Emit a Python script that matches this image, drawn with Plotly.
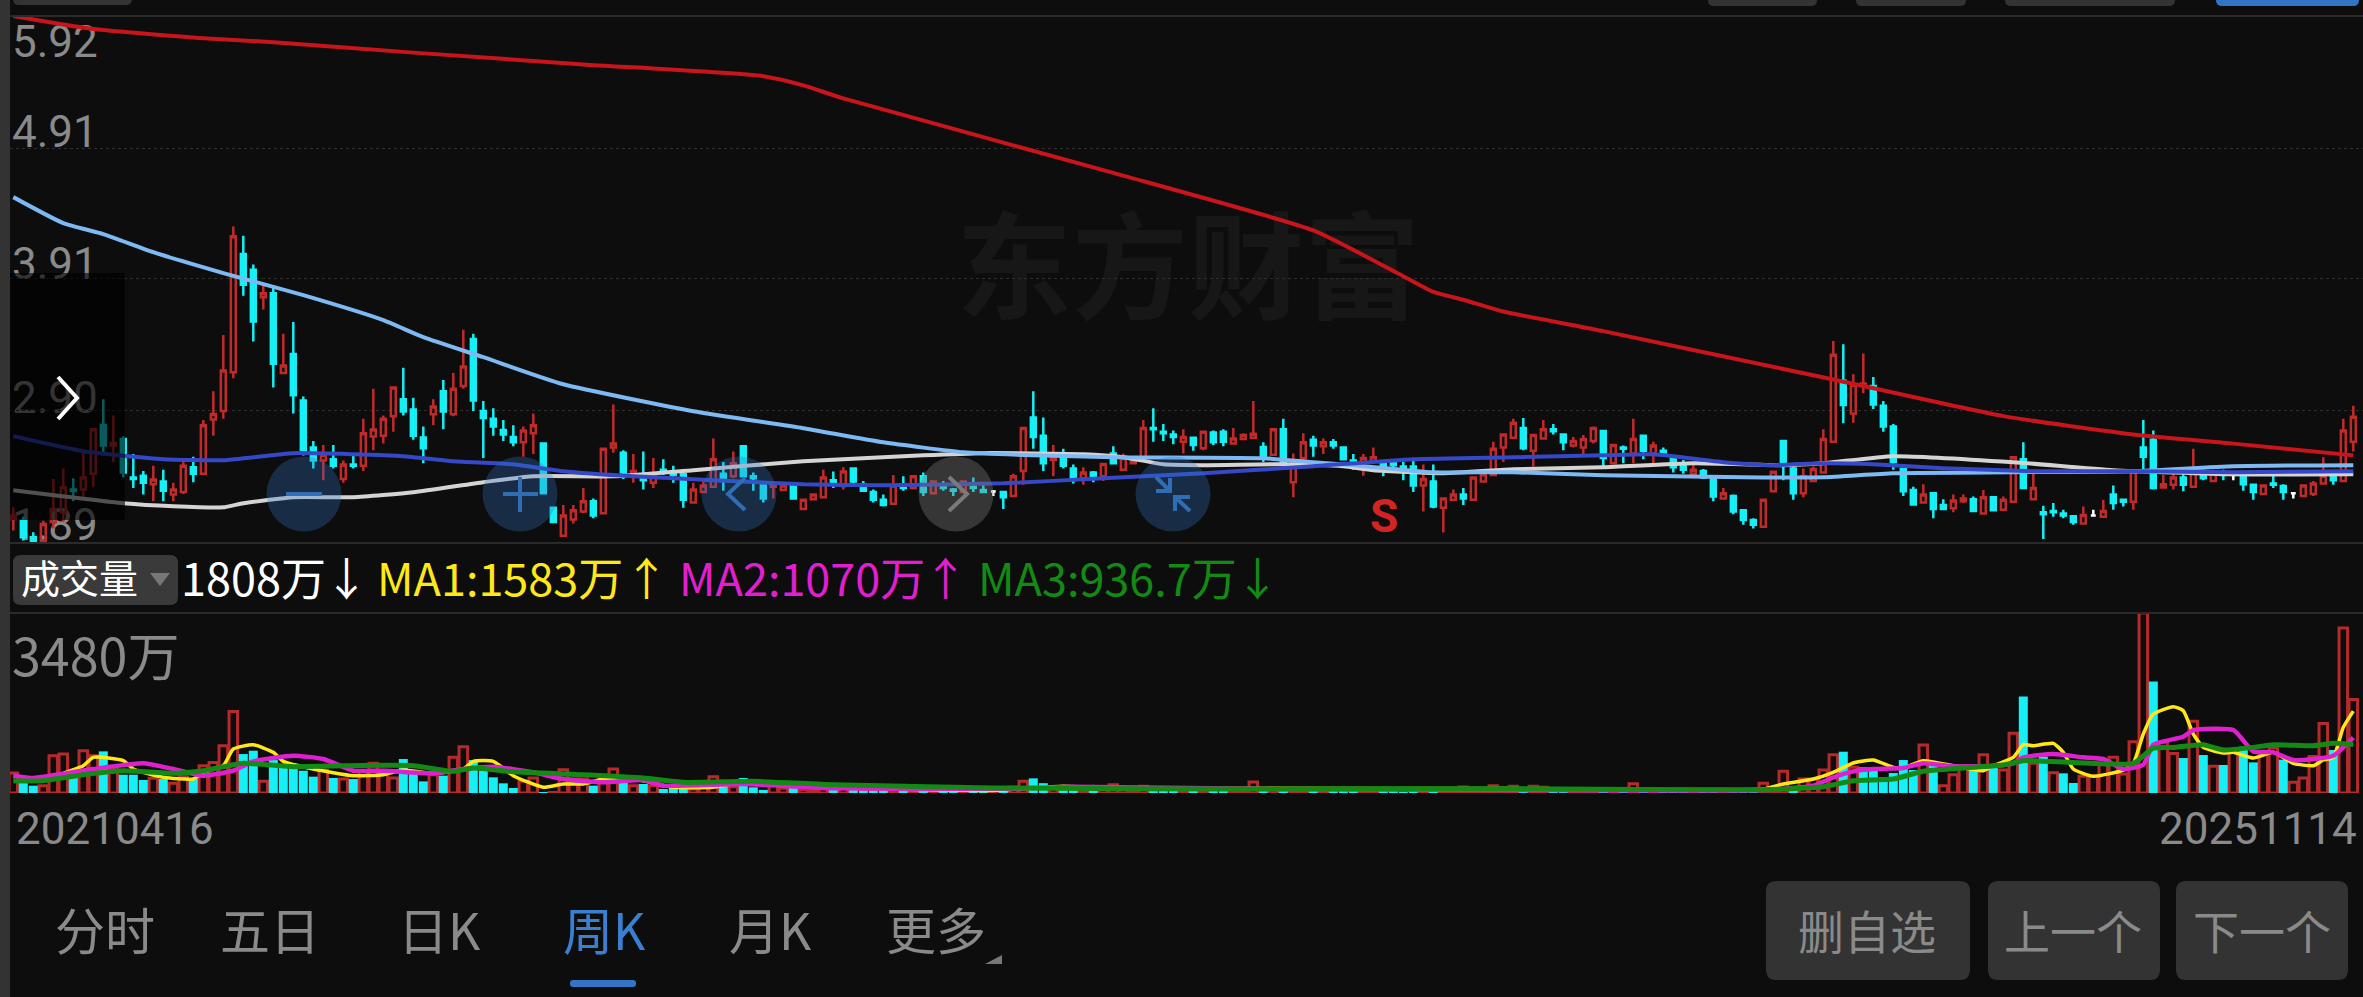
import plotly.graph_objects as go

# weekly candles, one entry per week (20210416 .. 20251114)
body_top = [
    2.10,2.06,1.934,2.036,2.15,2.316,2.30,2.39,2.76,2.793,
    2.655,2.686,2.39,2.405,2.375,2.36,2.30,2.48,2.47,2.79,
    2.877,3.21,4.236,4.10,3.98,3.80,3.80,3.247,3.336,2.98,
    2.62,2.565,2.53,2.49,2.49,2.73,2.757,2.84,3.08,2.99,
    2.91,2.696,2.933,3.05,3.07,3.24,3.45,2.90,2.84,2.755,
    2.70,2.75,2.79,2.65,2.16,2.10,2.14,2.21,2.21,2.61,
    2.65,2.58,2.44,2.405,2.42,2.45,2.42,2.415,2.30,2.33,
    2.53,2.42,2.50,2.63,2.40,2.33,2.34,2.33,2.33,2.22,
    2.26,2.39,2.37,2.436,2.46,2.34,2.28,2.22,2.33,2.34,
    2.40,2.40,2.36,2.335,2.30,2.36,2.32,2.295,2.283,2.28,
    2.40,2.77,2.85,2.71,2.55,2.55,2.46,2.43,2.43,2.495,
    2.575,2.54,2.52,2.77,2.77,2.74,2.72,2.70,2.695,2.74,
    2.735,2.74,2.69,2.715,2.725,2.625,2.76,2.76,2.50,2.66,
    2.68,2.66,2.66,2.62,2.52,2.54,2.545,2.51,2.50,2.475,
    2.475,2.38,2.36,2.23,2.26,2.26,2.39,2.415,2.61,2.72,
    2.81,2.77,2.715,2.76,2.76,2.72,2.67,2.685,2.77,2.747,
    2.64,2.62,2.685,2.71,2.635,2.595,2.54,2.485,2.45,2.44,
    2.39,2.27,2.25,2.14,2.065,2.22,2.435,2.67,2.46,2.40,
    2.455,2.685,3.33,3.13,3.10,3.11,3.09,2.94,2.78,2.455,
    2.295,2.26,2.27,2.18,2.215,2.23,2.225,2.24,2.24,2.22,
    2.545,2.53,2.31,2.125,2.135,2.115,2.095,2.105,2.10,2.135,
    2.26,2.22,2.435,2.62,2.68,2.34,2.39,2.39,2.43,2.43,
    2.425,2.42,2.41,2.395,2.335,2.33,2.345,2.325,2.27,2.33,
    2.345,2.405,2.41,2.75,2.855,
]
body_bot = [
    2.074,1.934,1.90,1.908,2.05,2.125,2.29,2.30,2.42,2.635,
    2.635,2.43,2.38,2.35,2.34,2.29,2.26,2.28,2.42,2.42,
    2.834,2.90,3.196,3.864,3.584,3.77,3.26,3.19,3.02,2.60,
    2.52,2.52,2.48,2.38,2.48,2.48,2.705,2.71,2.86,2.895,
    2.71,2.614,2.875,2.895,2.875,3.09,2.98,2.845,2.78,2.72,
    2.66,2.66,2.73,2.27,2.05,1.946,2.07,2.13,2.10,2.117,
    2.62,2.43,2.41,2.37,2.35,2.436,2.41,2.22,2.20,2.28,
    2.32,2.365,2.40,2.40,2.385,2.23,2.32,2.295,2.23,2.15,
    2.225,2.24,2.345,2.326,2.36,2.29,2.22,2.18,2.19,2.31,
    2.31,2.28,2.27,2.31,2.29,2.28,2.31,2.28,2.283,2.24,
    2.25,2.44,2.70,2.50,2.525,2.48,2.39,2.385,2.40,2.40,
    2.50,2.45,2.50,2.54,2.76,2.73,2.70,2.665,2.64,2.615,
    2.66,2.665,2.65,2.685,2.695,2.55,2.565,2.50,2.355,2.54,
    2.635,2.63,2.635,2.53,2.475,2.51,2.51,2.46,2.485,2.46,
    2.33,2.33,2.17,2.16,2.22,2.23,2.22,2.36,2.41,2.62,
    2.695,2.615,2.595,2.69,2.745,2.66,2.635,2.62,2.67,2.54,
    2.50,2.61,2.575,2.595,2.575,2.575,2.47,2.45,2.42,2.39,
    2.245,2.23,2.13,2.065,2.03,2.015,2.285,2.51,2.27,2.27,
    2.365,2.43,2.665,2.945,2.88,3.09,2.95,2.78,2.51,2.285,
    2.185,2.20,2.15,2.15,2.155,2.21,2.135,2.115,2.14,2.145,
    2.205,2.31,2.225,2.11,2.125,2.10,2.05,2.04,2.10,2.09,
    2.195,2.205,2.205,2.55,2.31,2.315,2.335,2.335,2.32,2.385,
    2.365,2.41,2.41,2.34,2.28,2.265,2.335,2.28,2.27,2.25,
    2.265,2.345,2.37,2.365,2.665,
]
wick_high = [
    2.163,2.09,1.972,2.06,2.38,2.46,2.385,2.597,2.76,2.99,
    2.865,2.706,2.57,2.44,2.48,2.45,2.35,2.53,2.55,2.83,
    3.05,3.48,4.31,4.24,4.02,3.864,3.86,3.49,3.58,3.01,
    2.67,2.64,2.64,2.52,2.56,2.84,3.07,2.865,3.08,3.23,
    3.0,2.78,2.99,3.137,3.19,3.52,3.49,2.976,2.92,2.83,
    2.79,2.78,2.88,2.65,2.16,2.18,2.18,2.31,2.23,2.61,
    2.95,2.60,2.57,2.59,2.54,2.53,2.48,2.42,2.35,2.37,
    2.69,2.51,2.59,2.63,2.43,2.335,2.355,2.34,2.335,2.22,
    2.27,2.45,2.436,2.47,2.46,2.365,2.30,2.26,2.41,2.40,
    2.41,2.43,2.37,2.365,2.31,2.37,2.39,2.34,2.295,2.28,
    2.42,2.775,3.05,2.85,2.64,2.61,2.49,2.47,2.44,2.495,
    2.63,2.575,2.54,2.83,2.92,2.80,2.75,2.76,2.705,2.75,
    2.75,2.76,2.77,2.73,2.975,2.66,2.767,2.84,2.575,2.73,
    2.71,2.69,2.685,2.63,2.57,2.57,2.62,2.52,2.52,2.51,
    2.525,2.49,2.49,2.24,2.30,2.31,2.40,2.45,2.665,2.72,
    2.84,2.845,2.72,2.83,2.80,2.73,2.70,2.715,2.78,2.755,
    2.64,2.635,2.84,2.715,2.665,2.62,2.55,2.525,2.51,2.455,
    2.395,2.31,2.26,2.145,2.08,2.22,2.44,2.67,2.475,2.46,
    2.475,2.76,3.435,3.41,3.18,3.34,3.16,2.975,2.80,2.46,
    2.32,2.34,2.28,2.225,2.26,2.26,2.245,2.295,2.245,2.245,
    2.55,2.66,2.435,2.175,2.195,2.145,2.105,2.17,2.145,2.22,
    2.33,2.23,2.44,2.83,2.75,2.41,2.43,2.44,2.61,2.45,
    2.45,2.45,2.41,2.435,2.34,2.34,2.435,2.34,2.27,2.335,
    2.365,2.545,2.43,2.84,2.94,
]
wick_low = [
    1.985,1.91,1.89,1.90,2.0,2.05,2.21,2.24,2.316,2.57,
    2.51,2.39,2.31,2.26,2.21,2.21,2.21,2.265,2.355,2.42,
    2.71,2.84,3.15,3.78,3.43,3.675,3.08,3.18,2.88,2.56,
    2.46,2.37,2.46,2.35,2.46,2.44,2.60,2.65,2.74,2.865,
    2.68,2.50,2.79,2.76,2.86,3.07,2.90,2.54,2.71,2.67,
    2.63,2.55,2.57,2.27,2.05,1.946,2.04,2.12,2.08,2.117,
    2.58,2.38,2.35,2.30,2.31,2.41,2.35,2.16,2.19,2.27,
    2.31,2.29,2.385,2.40,2.29,2.20,2.23,2.29,2.22,2.145,
    2.22,2.23,2.31,2.30,2.34,2.28,2.20,2.17,2.185,2.29,
    2.30,2.25,2.26,2.29,2.25,2.27,2.28,2.27,2.25,2.15,
    2.25,2.335,2.61,2.44,2.40,2.46,2.345,2.335,2.355,2.365,
    2.49,2.44,2.495,2.51,2.665,2.67,2.645,2.575,2.595,2.60,
    2.64,2.63,2.645,2.68,2.69,2.51,2.56,2.49,2.24,2.50,
    2.55,2.57,2.61,2.525,2.45,2.405,2.51,2.40,2.46,2.37,
    2.28,2.13,2.155,1.97,2.21,2.18,2.22,2.35,2.405,2.51,
    2.685,2.60,2.475,2.68,2.72,2.60,2.62,2.565,2.65,2.46,
    2.495,2.50,2.50,2.53,2.50,2.55,2.43,2.42,2.42,2.38,
    2.21,2.22,2.11,2.03,2.00,2.01,2.28,2.37,2.22,2.24,
    2.355,2.42,2.66,2.805,2.81,3.035,2.915,2.74,2.45,2.25,
    2.18,2.195,2.08,2.14,2.125,2.195,2.13,2.11,2.135,2.14,
    2.20,2.31,2.22,1.92,2.09,2.08,2.03,2.035,2.09,2.085,
    2.145,2.17,2.145,2.435,2.30,2.31,2.30,2.285,2.315,2.37,
    2.355,2.37,2.37,2.29,2.22,2.26,2.31,2.22,2.23,2.25,
    2.25,2.34,2.335,2.36,2.59,
]
candle_dir = ("rccrrrcrrc" "rcccrcrrcr" "rrrccrcrcc" "crcrcrrrrc" "ccrcrrcccc"
              "crrccrrrcr" "rcrcrcccrr" "rcrcccrrcr" "rrcrccccrc" "rcrccrccwc"
              "rrccrccrcr" "crrrcccrcr" "ccrrrcrcrr" "crccc" "rrccc" "crcrrcrrrr"
              "rcrrccrrrc" "rcrcrcccrc" "crcccrrccr" "rrrcrrcccc" "crccrrcrcr"
              "rcrccccrwr" "ccrccrrcrc" "rcwccrccwr" "rrcrr")

# volume, in 万
volume = [
    386,193,142,142,721,753,290,818,721,805,
    460,354,354,251,283,270,187,316,270,528,
    592,914,1578,753,818,225,637,509,509,431,
    316,444,290,270,270,431,573,400,290,657,
    367,225,354,335,689,895,637,431,303,187,
    97,225,290,15,10,451,270,270,142,250,
    464,206,142,174,142,77,97,97,77,110,
    316,122,122,290,110,60,140,90,100,70,
    60,80,90,100,70,50,40,30,60,30,
    50,60,40,25,20,30,30,20,15,30,
    110,225,283,190,90,70,60,40,40,70,
    160,100,60,130,80,50,40,40,40,60,
    50,40,40,30,212,80,90,100,60,50,
    50,40,30,40,30,30,20,40,20,15,
    40,40,60,70,30,116,60,60,142,100,
    130,60,129,110,50,60,60,40,60,60,
    50,30,180,80,60,50,40,30,40,30,
    30,30,40,25,25,187,58,419,77,270,
    270,444,740,798,496,496,431,303,386,637,
    444,927,528,142,354,528,464,740,496,444,
    1153,1868,573,702,393,380,193,322,335,560,
    689,367,992,3480,2157,979,766,676,1385,734,
    515,541,818,895,592,786,869,644,206,290,
    708,1346,831,3188,1808,
]
volume_dir = ("rccrrrcrrc" "rcccrcrrcr" "rrrccrcccc" "crcrcrrrrc" "ccrcrrcccc"
              "crrcrrrrcr" "rcrcrcccrr" "rcrcccrrcr" "rrcrccccrc" "rcrccrccrc"
              "rrccrccrcr" "rrrrcccrcr" "ccrrrcrcrr" "crcccrrccc" "crcrrrrrrr"
              "rcrrccrrrc" "rcrcrcccrc" "crcccrrrcr" "rrrcrccccc" "crcrrrcrcr"
              "rcrcrccrrr" "rrrrcrrcrc" "rcrccrrcrr" "rrcrr")

# price moving averages (week index, price)
ma_red_x = [0,8,19,26,40,57,75,79,83,110,130,139,142,145,149,159,182,199,212,222,234]
ma_red_y = [5.92,5.82,5.75,5.72,5.64,5.55,5.46,5.39,5.29,4.72,4.28,3.93,3.81,3.75,3.66,3.51,3.14,2.86,2.72,2.65,2.56]
ma_sky_x = [0,5,9,14,21,29,37,41,47,55,68,79,87,95,102,110,125,130,134,142,150,159,173,181,188,200,212,222,234]
ma_sky_y = [4.535,4.336,4.252,4.114,3.954,3.785,3.594,3.464,3.311,3.104,2.898,2.768,2.66,2.584,2.561,2.546,2.538,2.508,2.485,2.431,2.431,2.408,2.393,2.393,2.424,2.431,2.439,2.477,2.485]
ma_blue_x = [0,7,15,21,28,34,39,44,50,55,62,70,79,87,99,109,119,130,140,150,159,164,171,176,181,186,193,202,212,222,234]
ma_blue_y = [2.707,2.592,2.531,2.523,2.577,2.569,2.554,2.515,2.492,2.439,2.40,2.37,2.339,2.332,2.347,2.385,2.423,2.477,2.531,2.546,2.561,2.569,2.508,2.485,2.50,2.492,2.462,2.439,2.439,2.431,2.439]
ma_white_x = [0,11,16,21,23,28,34,40,47,52,60,68,79,91,97,107,111,115,119,127,133,136,143,150,159,168,177,181,188,200,210,222,234]
ma_white_y = [2.293,2.194,2.171,2.163,2.194,2.24,2.24,2.278,2.355,2.40,2.40,2.447,2.515,2.561,2.577,2.569,2.546,2.492,2.485,2.492,2.477,2.447,2.424,2.454,2.47,2.50,2.485,2.50,2.554,2.508,2.447,2.416,2.416]

# volume moving averages (week index, 万)
ma1_x = [4,5,7,8,11,12,15,18,19,21,22,24,26,27,30,34,37,39,42,45,46,48,50,53,55,57,59,63,66,70,73,82,98,105,110,124,150,175,177,180,182,184,186,188,189,191,194,197,198,200,201,202,204,205,206,208,211,212,213,214,216,217,218,219,221,222,224,226,228,230,231,232,233,234]
ma1_y = [315,380,528,689,625,464,303,270,400,528,850,934,786,612,464,335,354,444,380,464,612,612,335,110,174,174,270,238,110,110,206,100,50,130,90,90,85,77,174,270,399,580,638,496,483,625,528,431,528,689,934,914,960,786,464,322,444,573,1140,1526,1668,1591,1140,882,773,786,676,786,573,528,638,689,1269,1583]
ma2_x = [0,2,8,13,16,19,22,24,28,31,34,37,42,45,48,52,55,59,63,65,73,82,100,106,124,150,175,180,182,184,186,189,191,194,198,200,201,204,207,209,211,213,214,217,218,222,224,226,228,230,232,234]
ma2_y = [335,290,464,573,464,335,431,612,721,657,431,431,380,464,509,400,270,206,251,142,174,90,80,120,80,60,58,142,303,419,464,483,573,515,528,573,689,753,689,657,464,547,934,1088,1217,1217,805,786,638,657,721,1070]
ma3_x = [0,3,7,11,16,19,23,28,33,40,44,46,50,57,63,67,74,82,98,124,150,175,181,184,188,191,195,199,201,206,212,214,216,219,221,224,226,230,232,234]
ma3_y = [238,238,354,431,380,431,573,509,528,528,419,483,412,354,290,206,225,160,97,77,84,64,122,238,270,419,483,541,625,592,573,869,882,934,831,882,934,914,960,937]

price_tick_text = ["5.92", "4.91", "3.91", "2.90", "1.89"]
price_grid_vals = [4.91, 3.91, 2.90]

CJK = "Noto Sans CJK SC"
BG = "#0d0d0d"
GREY = "#8a8a8a"
RED = "#c02a2a"
CYAN = "#14f0f5"
W, H = 2363, 997
weeks = list(range(len(body_top)))


def candle_trace(letter, color, fill):
    idx = [i for i in weeks if candle_dir[i] == letter]
    # red candles close at the top of the body, cyan ones at the bottom
    opens = [body_bot[i] if letter == "r" else body_top[i] for i in idx]
    closes = [body_top[i] if letter == "r" else body_bot[i] for i in idx]
    side = dict(line=dict(color=color, width=2.5), fillcolor=fill)
    return go.Candlestick(x=idx, open=opens, high=[wick_high[i] for i in idx],
                          low=[wick_low[i] for i in idx], close=closes,
                          increasing=side, decreasing=side, whiskerwidth=0,
                          xaxis="x2", yaxis="y2", showlegend=False, hoverinfo="skip")


def ma_line(xs, ys, color, width, xa, ya):
    return go.Scatter(x=xs, y=ys, mode="lines",
                      line=dict(color=color, width=width, shape="spline", smoothing=0.5),
                      xaxis=xa, yaxis=ya, showlegend=False, hoverinfo="skip")


def label(text, x, y, color=GREY, size=44, font=CJK, anchor="left", weight=None):
    return dict(text=text, x=x, y=y, xref="x", yref="y", xanchor=anchor, yanchor="middle",
                showarrow=False, font=dict(family=font, size=size, color=color, weight=weight))


def rrect(x0, y0, x1, y1, r):
    return (f"M{x0+r},{y0} L{x1-r},{y0} Q{x1},{y0} {x1},{y0+r} L{x1},{y1-r} Q{x1},{y1} {x1-r},{y1} "
            f"L{x0+r},{y1} Q{x0},{y1} {x0},{y1-r} L{x0},{y0+r} Q{x0},{y0} {x0+r},{y0} Z")


def box(path, fill):
    return dict(type="path", path=path, xref="x", yref="y", fillcolor=fill, line_width=0, layer="below")


def stroke(path, color, width=4):
    return dict(type="path", path=path, xref="x", yref="y", line=dict(color=color, width=width), layer="above")


def circle(cx, cy, r, fill):
    return dict(type="circle", xref="x", yref="y", x0=cx-r, x1=cx+r, y0=cy-r, y1=cy+r,
                fillcolor=fill, line_width=0, layer="above")


fig = go.Figure()

# watermark sits on the page-sized subplot so everything else draws over it
fig.add_trace(go.Scatter(x=[1188], y=[281], mode="text", text=["东方财富"], xaxis="x", yaxis="y",
                         textposition="middle center", showlegend=False, hoverinfo="skip",
                         textfont=dict(family=CJK, size=116, color="#171717", weight=700)))

fig.add_trace(candle_trace("r", RED, "rgba(0,0,0,0)"))
fig.add_trace(candle_trace("c", CYAN, CYAN))
fig.add_trace(candle_trace("w", "#ffffff", "#ffffff"))

fig.add_trace(ma_line(ma_white_x, ma_white_y, "#d4d4d4", 4, "x2", "y2"))
fig.add_trace(ma_line(ma_sky_x, ma_sky_y, "#7db9f2", 4, "x2", "y2"))
fig.add_trace(ma_line(ma_blue_x, ma_blue_y, "#3448c8", 4, "x2", "y2"))
fig.add_trace(ma_line(ma_red_x, ma_red_y, "#c8141a", 4, "x2", "y2"))

vol_up = [i for i in weeks if volume_dir[i] == "r"]
vol_dn = [i for i in weeks if volume_dir[i] == "c"]
fig.add_trace(go.Bar(x=vol_up, y=[volume[i] for i in vol_up], width=0.85, xaxis="x3", yaxis="y3",
                     marker=dict(color="rgba(0,0,0,0)", line=dict(color="#b52a2a", width=3)),
                     showlegend=False, hoverinfo="skip"))
fig.add_trace(go.Bar(x=vol_dn, y=[volume[i] for i in vol_dn], width=0.9, xaxis="x3", yaxis="y3",
                     marker=dict(color=CYAN, line_width=0), showlegend=False, hoverinfo="skip"))
fig.add_trace(ma_line(ma1_x, ma1_y, "#ffe81a", 3.5, "x3", "y3"))
fig.add_trace(ma_line(ma2_x, ma2_y, "#e020d0", 4.5, "x3", "y3"))
fig.add_trace(ma_line(ma3_x, ma3_y, "#128a14", 5, "x3", "y3"))

shapes = [
    box(f"M0,0 L10,0 L10,{H} L0,{H} Z", "#333333"),
    # panel rules
    stroke("M10,16 L2363,16", "#2a2a2a", 2),
    stroke("M10,543 L2363,543", "#2a2a2a", 2),
    stroke("M10,613 L2363,613", "#2a2a2a", 2),
    # cut-off buttons along the top edge
    box(rrect(13, -12, 132, 5, 6), "#333333"),
    box(rrect(1708, -12, 1817, 6, 6), "#333333"),
    box(rrect(1856, -12, 1966, 6, 6), "#333333"),
    box(rrect(2005, -12, 2175, 6, 6), "#333333"),
    box(rrect(2216, -12, 2359, 6, 6), "#3374c4"),
    # volume selector
    box(rrect(13, 555, 178, 605, 8), "#3a3a3a"),
    box("M150,573 L170,573 L160,586 Z", "#777777"),
    # bottom bar
    box(rrect(1766, 881, 1970, 980, 10), "#333333"),
    box(rrect(1988, 881, 2160, 980, 10), "#333333"),
    box(rrect(2176, 881, 2348, 980, 10), "#333333"),
    box(rrect(570, 980, 636, 987, 3), "#3374c4"),
    box("M1002,955 L1002,964 L985,964 Z", "#777777"),
    # overlay controls on the chart
    dict(type="rect", xref="x", yref="y", x0=10, x1=125, y0=273, y1=520,
         fillcolor="rgba(0,0,0,0.62)", line_width=0, layer="above"),
    stroke("M58,377 L77,398 L58,419", "#ffffff", 4),
    circle(304, 494, 37.5, "rgba(49,120,200,0.3)"),
    circle(520, 494, 37.5, "rgba(49,120,200,0.3)"),
    circle(739, 494, 37.5, "rgba(49,120,200,0.3)"),
    circle(956, 494, 37.5, "rgba(120,120,120,0.38)"),
    circle(1173, 494, 37.5, "rgba(49,120,200,0.3)"),
    stroke("M286,494 L322,494", "#2f6db5"),
    stroke("M503,494 L538,494 M520,477 L520,512", "#2f6db5"),
    stroke("M745,478 L728,494 L745,510", "#2f6db5"),
    stroke("M949,477 L967,494 L949,511", "#7a7a7a"),
    stroke("M1156,477 L1170,491 M1156,491 L1170,491 L1170,478", "#2f6db5"),
    stroke("M1190,511 L1175,497 M1190,497 L1175,497 L1175,511", "#2f6db5"),
]

annotations = [
    label("3480万", 10, 653, size=52),
    label("成交量", 19, 576, color="#ffffff", size=39),
    label("1808万", 179, 576, color="#ffffff", size=45),
    label("↓", 322, 576, color="#ffffff", size=45),
    label("MA1:1583万", 375, 576, color="#ffe81a", size=45),
    label("↑", 622, 576, color="#ffe81a", size=45),
    label("MA2:1070万", 677, 576, color="#e020d0", size=45),
    label("↑", 921, 576, color="#e020d0", size=45),
    label("MA3:936.7万", 976, 576, color="#128a14", size=45),
    label("↓", 1233, 576, color="#128a14", size=45),
    label("20210416", 14, 829, size=44, font="Roboto"),
    label("20251114", 2359, 829, size=44, font="Roboto", anchor="right"),
    label("S", 1384, 516, color="#d32323", size=46, font="Roboto", anchor="center", weight=700),
    label("分时", 105, 928, size=50, anchor="center"),
    label("五日", 270, 928, size=50, anchor="center"),
    label("日K", 439, 928, size=50, anchor="center"),
    label("周K", 604, 928, color="#3a80d2", size=50, anchor="center"),
    label("月K", 770, 928, size=50, anchor="center"),
    label("更多", 936, 928, size=50, anchor="center"),
    label("删自选", 1867, 929, size=46, anchor="center"),
    label("上一个", 2073, 929, size=46, anchor="center"),
    label("下一个", 2262, 929, size=46, anchor="center"),
]

hidden = dict(visible=False, showgrid=False, zeroline=False)
x_range = [(10 - 13.3) / 10, (W - 13.3) / 10]
x_domain = [10 / W, 1]

fig.update_layout(
    width=W, height=H, margin=dict(l=0, r=0, t=0, b=0),
    paper_bgcolor=BG, plot_bgcolor="rgba(0,0,0,0)", barmode="overlay", boxgap=0.3, showlegend=False,
    shapes=shapes, annotations=annotations,
    # page-sized axes in pixels, for the app's chrome and the price labels
    xaxis=dict(domain=[0, 1], range=[0, W], anchor="y", **hidden),
    yaxis=dict(domain=[0, 1], range=[H, 0], anchor="x", showgrid=False, zeroline=False, showline=False,
               tickmode="array", tickvals=[42, 132, 264, 398, 525], ticktext=price_tick_text,
               ticklabelposition="inside", ticklen=0, ticklabelstandoff=9,
               tickfont=dict(family="Roboto", size=44, color=GREY)),
    # price panel
    xaxis2=dict(domain=x_domain, range=x_range, anchor="y2", rangeslider_visible=False, **hidden),
    yaxis2=dict(domain=[1 - 543 / H, 1 - 16 / H], range=[1.89, 5.92], anchor="x2",
                tickmode="array", tickvals=price_grid_vals, showticklabels=False, ticklen=0,
                showgrid=True, gridcolor="#2e2e2e", griddash="dot", gridwidth=1,
                zeroline=False, showline=False),
    # volume panel
    xaxis3=dict(domain=x_domain, range=x_range, anchor="y3", **hidden),
    yaxis3=dict(domain=[1 - 793 / H, 1 - 613 / H], range=[0, 3480], anchor="x3", **hidden),
)

fig.write_html("out.html", config=dict(displayModeBar=False),
               post_script="document.body.style.margin='0';")
